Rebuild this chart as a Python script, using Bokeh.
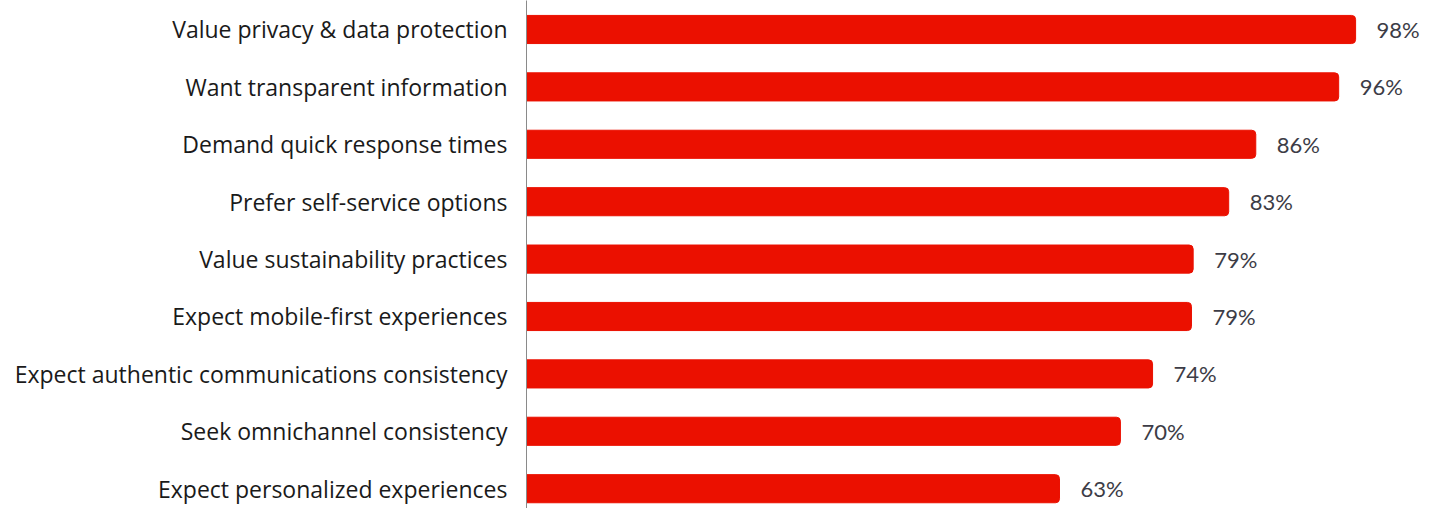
from bokeh.plotting import figure
from bokeh.models import Range1d, FixedTicker, ColumnDataSource
from bokeh.core.properties import value
from bokeh.embed import file_html
from bokeh.resources import INLINE

categories = [
    "Value privacy & data protection",
    "Want transparent information",
    "Demand quick response times",
    "Prefer self-service options",
    "Value sustainability practices",
    "Expect mobile-first experiences",
    "Expect authentic communications consistency",
    "Seek omnichannel consistency",
    "Expect personalized experiences",
]
values = [98, 96, 86.2, 83, 78.8, 78.6, 74, 70.2, 63]
labels = ["98%", "96%", "86%", "83%", "79%", "79%", "74%", "70%", "63%"]

pos = list(range(len(categories)))
src = ColumnDataSource(dict(y=pos, v=values, lab=labels))

p = figure(width=1437, height=508, output_backend="svg", toolbar_location=None,
           x_range=Range1d(0, 107.68), y_range=Range1d(8.345, -0.505),
           min_border_left=526, min_border_right=0, min_border_top=0, min_border_bottom=0)
p.outline_line_color = None
p.grid.visible = False
p.xaxis.visible = False

p.hbar(y="y", left=0, right="v", height=0.49, source=src, color="#EB1000",
       border_radius=(0, 4, 4, 0))
p.text(x="v", y="y", text="lab", source=src, x_offset=21, text_baseline="middle",
       text_align="left", text_font=value("Lato"), text_font_size="22px", text_color="#3c3c46")

yax = p.yaxis[0]
yax.ticker = FixedTicker(ticks=pos)
yax.major_label_overrides = {i: c for i, c in enumerate(categories)}
yax.major_tick_line_color = None
yax.major_tick_out = 0
yax.major_tick_in = 0
yax.minor_tick_line_color = None
yax.axis_line_color = "#8a8a8a"
yax.major_label_standoff = 19
yax.major_label_text_font = "Open Sans"
yax.major_label_text_font_size = "23px"
yax.major_label_text_color = "#1a1a1a"

open("out.html", "w").write(file_html(p, INLINE))
